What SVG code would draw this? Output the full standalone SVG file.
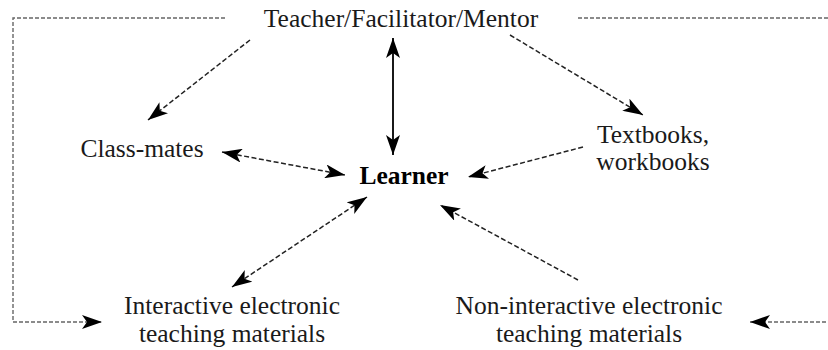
<svg xmlns="http://www.w3.org/2000/svg" width="828" height="350" viewBox="0 0 828 350">
<style>
text{font-size:25.5px;fill:#1a1a1a;text-anchor:middle}
.b{font-weight:bold;fill:#000}
.frame{fill:none;stroke:#666;stroke-width:1.4;stroke-dasharray:4 2}
.dash{fill:none;stroke:#222;stroke-width:1.5;stroke-dasharray:5 2.5}
.solid{fill:none;stroke:#000;stroke-width:1.8}
</style>
<defs>
<marker id="ah" viewBox="0 0 20 14" refX="20" refY="7" markerWidth="20" markerHeight="14" markerUnits="userSpaceOnUse" orient="auto-start-reverse">
<path d="M0,0 L20,7 L0,14 L5,7 z" fill="#000"/>
</marker>
</defs>
<rect width="828" height="350" fill="#fff"/>
<g font-family="Liberation Serif, Times New Roman, Tinos, DejaVu Serif, serif">
<g id="teacher"><text x="401" y="27">Teacher/Facilitator/Mentor</text></g>
<g id="classmates"><text x="142" y="157">Class-mates</text></g>
<g id="learner"><text class="b" x="404" y="184">Learner</text></g>
<g id="textbooks"><text x="653" y="143">Textbooks,</text><text x="653" y="170">workbooks</text></g>
<g id="interactive"><text x="232" y="314">Interactive electronic</text><text x="232" y="342">teaching materials</text></g>
<g id="noninteractive"><text x="589" y="314">Non-interactive electronic</text><text x="589" y="342">teaching materials</text></g>
</g>
<g id="connectors">
<path class="frame" d="M225,18 H13 V322 H102" marker-end="url(#ah)"/>
<path class="frame" d="M578,18 H835 V322 H750" marker-end="url(#ah)"/>
<line class="solid" x1="393" y1="38" x2="393" y2="155" marker-start="url(#ah)" marker-end="url(#ah)"/>
<line class="dash" x1="250" y1="40" x2="148" y2="120" marker-end="url(#ah)"/>
<line class="dash" x1="510" y1="35" x2="643" y2="115" marker-end="url(#ah)"/>
<line class="dash" x1="222" y1="152" x2="345" y2="175" marker-start="url(#ah)" marker-end="url(#ah)"/>
<line class="dash" x1="583" y1="147" x2="468" y2="177" marker-end="url(#ah)"/>
<line class="dash" x1="232" y1="287" x2="367" y2="197" marker-start="url(#ah)" marker-end="url(#ah)"/>
<line class="dash" x1="578" y1="280" x2="440" y2="205" marker-end="url(#ah)"/>
</g>
</svg>
